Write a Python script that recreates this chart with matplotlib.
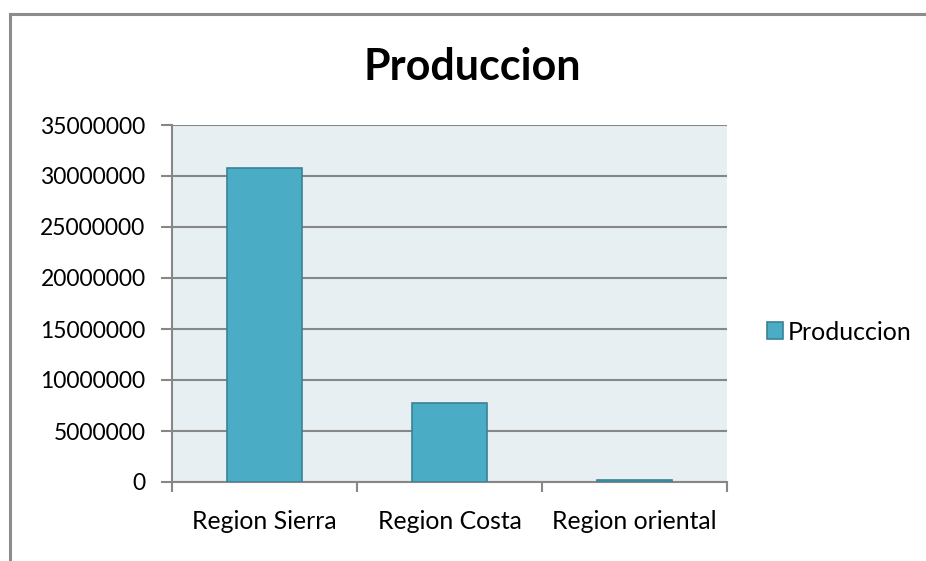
import matplotlib
matplotlib.use("Agg")
import matplotlib.pyplot as plt
from matplotlib.lines import Line2D
from matplotlib.patches import Patch
import numpy as np

# data
regions = ["Region Sierra", "Region Costa", "Region oriental"]
produccion = [30800000, 7750000, 200000]
yticks = [0, 5000000, 10000000, 15000000, 20000000, 25000000, 30000000, 35000000]

plt.rcParams["font.family"] = ["Lato", "DejaVu Sans"]

fig = plt.figure(figsize=(9.26, 5.61), dpi=100)
ax = fig.add_axes([172 / 926, 1 - 482 / 561, 555 / 926, 357 / 561])

grid_c = "#878787"
x = np.arange(len(regions))
ax.bar(x, produccion, width=0.405, color="#4BACC6", edgecolor="#3A8296",
       linewidth=1.2, zorder=3, label="Produccion")

ax.set_facecolor("#E8EFF3")
ax.set_xlim(-0.5, 2.5)
ax.set_ylim(0, 35000000)
ax.set_yticks(yticks)
ax.set_yticklabels([str(v) for v in yticks], fontsize=16.5)
ax.yaxis.grid(True, color=grid_c, linewidth=1.5, zorder=1)
ax.set_axisbelow(True)

ax.set_xticks(x)
ax.set_xticklabels(regions, fontsize=17.8)
ax.tick_params(axis="x", which="major", length=0, pad=20)
ax.set_xticks([-0.5, 0.5, 1.5, 2.5], minor=True)
ax.tick_params(axis="x", which="minor", length=7, width=1.5, color=grid_c)
ax.tick_params(axis="y", length=8, width=1.5, color=grid_c, pad=11)

for s in ["top", "right"]:
    ax.spines[s].set_visible(False)
for s in ["left", "bottom"]:
    ax.spines[s].set_color(grid_c)
    ax.spines[s].set_linewidth(1.5)

fig.text(472 / 926, 1 - 67 / 561, "Produccion", fontsize=31, fontweight="bold",
         ha="center", va="center")

handles = [Patch(facecolor="#4BACC6", edgecolor="#3A8296", linewidth=1.2)]
fig.legend(handles, ["Produccion"], loc="center left",
           bbox_to_anchor=(767 / 926, 1 - 332 / 561), frameon=False,
           fontsize=18, handlelength=0.65, handleheight=0.65,
           handletextpad=0.2, borderaxespad=0, borderpad=0)

# outer chart border (cropped at right and bottom)
fig.add_artist(Line2D([10 / 926, 1.0], [1 - 13.5 / 561, 1 - 13.5 / 561],
                      color="#8C8C8C", linewidth=2.2, transform=fig.transFigure))
fig.add_artist(Line2D([10 / 926, 10 / 926], [1 - 13.5 / 561, 0.0],
                      color="#8C8C8C", linewidth=2.2, transform=fig.transFigure))

fig.savefig("out.png", dpi=100)
